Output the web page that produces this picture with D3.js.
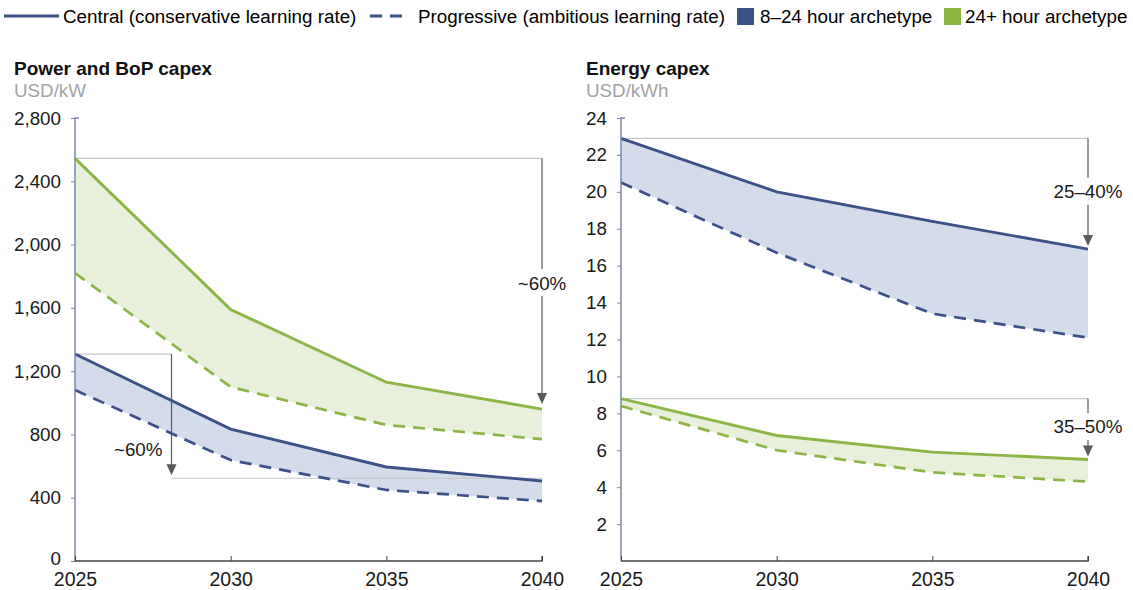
<!DOCTYPE html>
<meta charset="utf-8">
<style>
body { margin: 0; background: #fff; }
svg { font-family: Arial, "Liberation Sans", sans-serif; }
.tick text { fill: #1a1a1a; }
</style>
<svg width="1133" height="590"></svg>
<script src="https://cdn.jsdelivr.net/npm/d3@7"></script>
<script>

var years = [2025, 2030, 2035, 2040];

// Power and BoP capex, USD/kW
var powerLongCentral = [2545, 1590, 1130, 960];
var powerLongProgressive = [1820, 1100, 860, 770];
var powerShortCentral = [1308, 834, 594, 506];
var powerShortProgressive = [1081, 638, 449, 379];
var powerTicks = [0, 400, 800, 1200, 1600, 2000, 2400, 2800];

// Energy capex, USD/kWh
var energyShortCentral = [22.9, 20.0, 18.4, 16.9];
var energyShortProgressive = [20.5, 16.7, 13.4, 12.1];
var energyLongCentral = [8.8, 6.8, 5.9, 5.5];
var energyLongProgressive = [8.4, 6.0, 4.8, 4.3];
var energyTicks = [2, 4, 6, 8, 10, 12, 14, 16, 18, 20, 22, 24];

var blue = "#3d5189", blueFill = "#d4dcec";
var green = "#8cb545", greenFill = "#e8efdb";
var refGrey = "#c3c8c8", arrowGrey = "#555a5a";
var fs = 18.8;

var svg = d3.select("svg");

// legend
var legend = svg.append("g").attr("transform", "translate(0,16)");
legend.append("line").attr("x1", 4).attr("x2", 59).attr("y1", 0).attr("y2", 0)
  .attr("stroke", blue).attr("stroke-width", 3);
legend.append("text").attr("x", 63).attr("y", 6.5).attr("font-size", fs)
  .text("Central (conservative learning rate)");
legend.append("line").attr("x1", 370).attr("x2", 410).attr("y1", 0).attr("y2", 0)
  .attr("stroke", blue).attr("stroke-width", 3).attr("stroke-dasharray", "12,8");
legend.append("text").attr("x", 418).attr("y", 6.5).attr("font-size", fs)
  .text("Progressive (ambitious learning rate)");
legend.append("rect").attr("x", 737).attr("y", -8).attr("width", 17).attr("height", 17).attr("fill", blue);
legend.append("text").attr("x", 760).attr("y", 6.5).attr("font-size", fs).text("8\u201324 hour archetype");
legend.append("rect").attr("x", 944).attr("y", -8).attr("width", 17).attr("height", 17).attr("fill", green);
legend.append("text").attr("x", 965).attr("y", 6.5).attr("font-size", fs).text("24+ hour archetype");

function panel(opts) {
  var x = d3.scaleLinear().domain([2025, 2040]).range([opts.x0, opts.x1]);
  var y = d3.scaleLinear().domain([0, opts.max]).range([561, 118]);
  var g = svg.append("g");

  g.append("text").attr("x", opts.titleX).attr("y", 75).attr("font-size", 19)
    .attr("font-weight", "bold").attr("fill", "#111").text(opts.title);
  g.append("text").attr("x", opts.titleX).attr("y", 97).attr("font-size", fs)
    .attr("fill", "#a3a3a3").text(opts.unit);

  // shaded bands
  opts.series.forEach(function(s) {
    var area = d3.area()
      .x(function(d, i) { return x(years[i]); })
      .y0(function(d, i) { return y(s.prog[i]); })
      .y1(function(d) { return y(d); });
    g.append("path").datum(s.central).attr("d", area).attr("fill", s.fill);
  });

  // reference lines and arrows
  opts.notes.forEach(function(n) {
    var ys = y(n.from), ye = y(n.to) - n.gap, xa = x(n.at);
    g.append("line").attr("x1", x(2025)).attr("x2", xa).attr("y1", ys).attr("y2", ys)
      .attr("stroke", refGrey).attr("stroke-width", 1.2);
    if (n.base != null) {
      g.append("line").attr("x1", xa).attr("x2", x(2040)).attr("y1", y(n.base)).attr("y2", y(n.base))
        .attr("stroke", refGrey).attr("stroke-width", 1.2);
    }
    var labY = y(n.labelY);
    if (n.inline) {
      g.append("line").attr("x1", xa).attr("x2", xa).attr("y1", ys).attr("y2", labY - 14)
        .attr("stroke", arrowGrey).attr("stroke-width", 1.2);
      g.append("line").attr("x1", xa).attr("x2", xa).attr("y1", labY + 13).attr("y2", ye - 8)
        .attr("stroke", arrowGrey).attr("stroke-width", 1.2);
      g.append("text").attr("x", xa).attr("y", labY + 6.5).attr("text-anchor", "middle")
        .attr("font-size", fs).attr("fill", "#1a1a1a").text(n.label);
    } else {
      g.append("line").attr("x1", xa).attr("x2", xa).attr("y1", ys).attr("y2", ye - 8)
        .attr("stroke", arrowGrey).attr("stroke-width", 1.2);
      g.append("text").attr("x", xa - 9).attr("y", labY + 6.5).attr("text-anchor", "end")
        .attr("font-size", fs).attr("fill", "#1a1a1a").text(n.label);
    }
    g.append("path")
      .attr("d", "M" + (xa - 5) + "," + (ye - 11) + "L" + (xa + 5) + "," + (ye - 11) + "L" + xa + "," + ye + "Z")
      .attr("fill", arrowGrey);
  });

  // lines
  opts.series.forEach(function(s) {
    var line = d3.line()
      .x(function(d, i) { return x(years[i]); })
      .y(function(d) { return y(d); });
    g.append("path").datum(s.prog).attr("d", line).attr("fill", "none")
      .attr("stroke", s.color).attr("stroke-width", 2.7).attr("stroke-dasharray", "12,8");
    g.append("path").datum(s.central).attr("d", line).attr("fill", "none")
      .attr("stroke", s.color).attr("stroke-width", 2.9);
  });

  // axes
  var yAxis = g.append("g").attr("transform", "translate(" + opts.x0 + ",0)")
    .call(d3.axisLeft(y).tickValues(opts.ticks).tickSize(4).tickPadding(10)
      .tickFormat(d3.format(",")));
  yAxis.attr("font-size", fs).attr("font-family", null);
  yAxis.select(".domain").attr("stroke", "#7c88aa").attr("stroke-width", 1.5)
    .attr("d", "M" + 4 + ",118H0V561");
  yAxis.selectAll(".tick line").attr("stroke", "#7c88aa");
  yAxis.selectAll(".tick text").filter(function(d) { return d === 0; }).attr("y", -3);

  var xAxis = g.append("g").attr("transform", "translate(0,561)")
    .call(d3.axisBottom(x).tickValues(years).tickSize(-5).tickPadding(11).tickFormat(d3.format("d")));
  xAxis.attr("font-size", 19.5).attr("font-family", null);
  xAxis.select(".domain").attr("stroke", "#444").attr("stroke-width", 1.3)
    .attr("d", "M" + opts.x0 + ",0H" + opts.x1 + "V-5");
  xAxis.selectAll(".tick line").attr("stroke", "#444");
  xAxis.selectAll(".tick text").attr("dy", "0.71em");
}

panel({
  x0: 75, x1: 542, max: 2800, ticks: powerTicks, titleX: 14,
  title: "Power and BoP capex", unit: "USD/kW",
  series: [
    { central: powerLongCentral, prog: powerLongProgressive, color: green, fill: greenFill },
    { central: powerShortCentral, prog: powerShortProgressive, color: blue, fill: blueFill }
  ],
  notes: [
    { from: powerLongCentral[0], to: powerLongCentral[3], at: 2040, gap: 5, label: "~60%", labelY: 1757, inline: true },
    { from: powerShortCentral[0], to: 523, at: 2028.1, gap: 3, base: 523, label: "~60%", labelY: 705, inline: false }
  ]
});

panel({
  x0: 621, x1: 1088, max: 24, ticks: energyTicks, titleX: 586,
  title: "Energy capex", unit: "USD/kWh",
  series: [
    { central: energyShortCentral, prog: energyShortProgressive, color: blue, fill: blueFill },
    { central: energyLongCentral, prog: energyLongProgressive, color: green, fill: greenFill }
  ],
  notes: [
    { from: energyShortCentral[0], to: energyShortCentral[3], at: 2040, gap: 3, label: "25\u201340%", labelY: 20.0, inline: true },
    { from: energyLongCentral[0], to: energyLongCentral[3], at: 2040, gap: 3, label: "35\u201350%", labelY: 7.26, inline: true }
  ]
});
</script>
